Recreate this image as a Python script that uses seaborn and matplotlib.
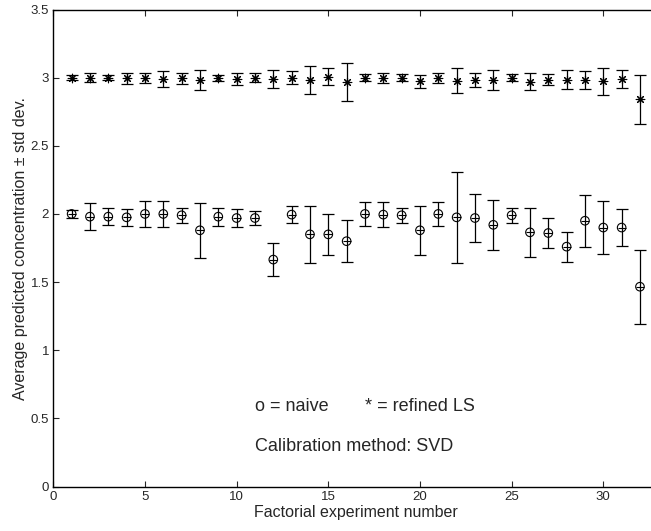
import numpy as np
import pandas as pd
import matplotlib
matplotlib.use("Agg")
import matplotlib.pyplot as plt
import seaborn as sns

experiments = list(range(1, 33))

naive_mean = [2.00, 1.98, 1.98, 1.975, 2.00, 2.00, 1.99, 1.88, 1.98, 1.97, 1.97, 1.665,
              1.995, 1.85, 1.85, 1.80, 2.00, 1.995, 1.99, 1.88, 2.00, 1.975, 1.97, 1.92,
              1.99, 1.865, 1.86, 1.76, 1.95, 1.90, 1.90, 1.466]
naive_std = [0.028, 0.10, 0.06, 0.06, 0.096, 0.096, 0.056, 0.20, 0.065, 0.067, 0.05, 0.124,
             0.065, 0.21, 0.15, 0.155, 0.09, 0.092, 0.055, 0.178, 0.085, 0.333, 0.178, 0.185,
             0.056, 0.18, 0.11, 0.11, 0.19, 0.195, 0.135, 0.27]

refined_mean = [3.00, 3.00, 3.00, 2.995, 3.00, 2.99, 2.995, 2.983, 3.00, 2.99, 3.00, 2.99,
                3.00, 2.983, 3.007, 2.97, 3.00, 2.995, 3.00, 2.973, 2.995, 2.978, 2.985, 2.98,
                3.00, 2.97, 2.985, 2.985, 2.985, 2.973, 2.99, 2.84]
refined_std = [0.02, 0.033, 0.02, 0.04, 0.037, 0.06, 0.04, 0.076, 0.023, 0.044, 0.032, 0.066,
               0.047, 0.10, 0.063, 0.138, 0.026, 0.037, 0.025, 0.049, 0.037, 0.091, 0.052, 0.074,
               0.027, 0.064, 0.039, 0.069, 0.066, 0.10, 0.068, 0.178]

xticks = [0, 5, 10, 15, 20, 25, 30]
yticks = [0, 0.5, 1, 1.5, 2, 2.5, 3, 3.5]
ytick_labels = ["0", "0.5", "1", "1.5", "2", "2.5", "3", "3.5"]

sns.set_style("ticks")
plt.rcParams['font.family'] = ['Liberation Sans', 'DejaVu Sans']
plt.rcParams['xtick.direction'] = 'in'
plt.rcParams['ytick.direction'] = 'in'

df = pd.DataFrame({
    "experiment": experiments * 2,
    "mean": naive_mean + refined_mean,
    "std": naive_std + refined_std,
    "method": ["naive"] * 32 + ["refined LS"] * 32,
})

fig = plt.figure(figsize=(6.51, 5.31), dpi=100)
ax = fig.add_axes([53.3 / 651, 44.5 / 531, 605 / 651, 477 / 531])

for method in ["naive", "refined LS"]:
    sub = df[df["method"] == method]
    ax.errorbar(sub["experiment"], sub["mean"], yerr=sub["std"], fmt='none',
                ecolor='black', elinewidth=0.9, capsize=4.5, capthick=0.9, zorder=2)

naive_df = df[df["method"] == "naive"]
refined_df = df[df["method"] == "refined LS"]
sns.scatterplot(data=naive_df, x="experiment", y="mean", ax=ax, marker='o',
                s=38, facecolors='none', edgecolor='black', linewidth=0.8, zorder=3, legend=False)
sns.scatterplot(data=naive_df, x="experiment", y="mean", ax=ax, marker='_',
                s=38, color='black', linewidth=0.8, zorder=3, legend=False)
sns.scatterplot(data=refined_df, x="experiment", y="mean", ax=ax, marker=(8, 2, 0),
                s=38, color='black', edgecolor='black', linewidth=0.8, zorder=3, legend=False)

ax.set_xlim(0, 33)
ax.set_ylim(0, 3.5)
ax.set_xticks(xticks)
ax.set_yticks(yticks)
ax.set_yticklabels(ytick_labels)
ax.tick_params(axis='both', labelsize=9.5, length=4, width=0.8, top=True, right=True, pad=3)
for s in ax.spines.values():
    s.set_linewidth(1.0)
    s.set_color('black')

ax.set_xlabel("Factorial experiment number", fontsize=11.5, labelpad=2)
ax.set_ylabel("Average predicted concentration ± std dev.", fontsize=11.5, labelpad=2)

ax.text(11.0, 0.587, "o = naive", fontsize=13, va='center', ha='left')
ax.text(17.0, 0.587, "* = refined LS", fontsize=13, va='center', ha='left')
ax.text(11.0, 0.29, "Calibration method: SVD", fontsize=13, va='center', ha='left')

fig.savefig("out.png", dpi=100)
